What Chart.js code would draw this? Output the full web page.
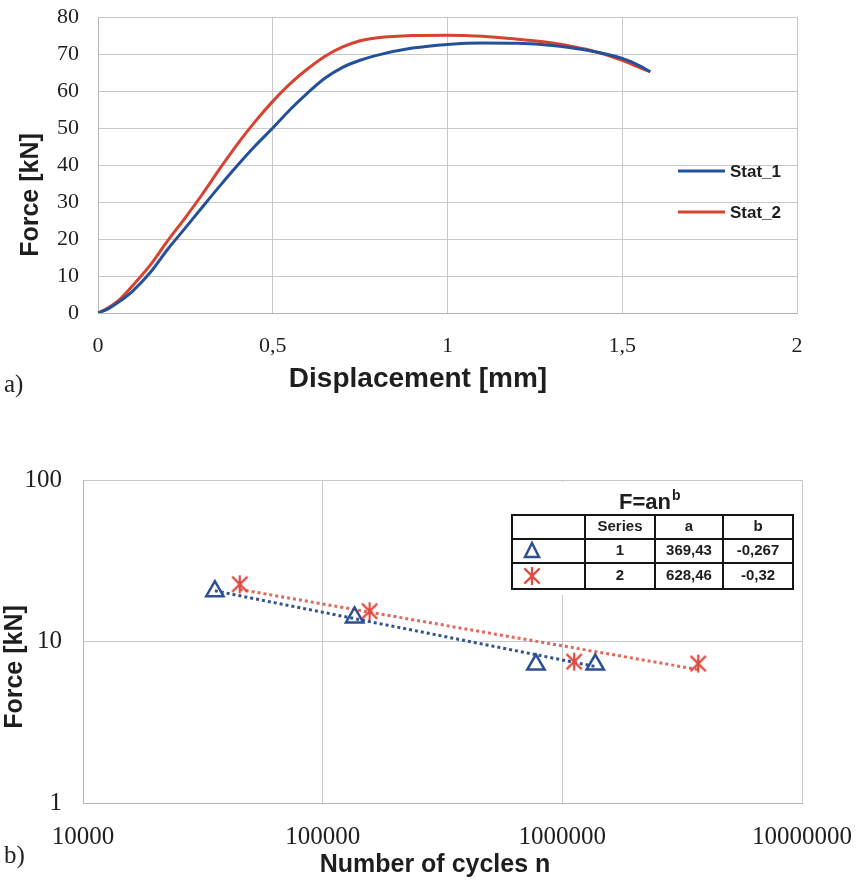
<!DOCTYPE html>
<html><head><meta charset="utf-8">
<script src="https://cdn.jsdelivr.net/npm/chart.js@4.4.1/dist/chart.umd.min.js"></script>
<style>
html,body{margin:0;padding:0;background:#fff;}
#wrap{position:relative;width:858px;height:882px;overflow:hidden;background:#fff;}
canvas{position:absolute;left:0;}
#c1{top:0;}
#c2{top:440px;}
.lab{position:absolute;font-family:"Liberation Serif","Times New Roman",serif;font-size:25px;color:#222;line-height:28px;}
</style></head><body>
<div id="wrap">
<canvas id="c1" width="858" height="400"></canvas>
<canvas id="c2" width="858" height="442"></canvas>
<div class="lab" style="left:4px;top:370px;">a)</div>
<div class="lab" style="left:4px;top:841px;">b)</div>
</div>
<script>
// ---------- Data: chart a) ----------
const dispX  = [0, 0.03, 0.06, 0.1, 0.15, 0.2, 0.25, 0.3, 0.35, 0.4, 0.45, 0.5, 0.55, 0.6, 0.65, 0.7, 0.75, 0.8, 0.9, 1.0, 1.1, 1.2, 1.3, 1.4, 1.5, 1.55, 1.58];
const stat1F = [0, 1.2, 3, 6, 11, 17.3, 23, 28.8, 34.5, 40, 45.2, 50, 55, 59.5, 63.5, 66.4, 68.3, 69.7, 71.6, 72.6, 73, 72.9, 72.3, 71, 68.8, 66.8, 65.2];
const stat2F = [0, 1.5, 3.5, 7.5, 13, 19.6, 25.8, 32.3, 39.2, 45.8, 51.8, 57.2, 62, 66, 69.4, 71.9, 73.6, 74.4, 75, 75.1, 74.8, 74, 73, 71.2, 68.3, 66.3, 65.2];
const seriesA = ['Stat_1', 'Stat_2'];
const xTicksA = [0, 0.5, 1, 1.5, 2];
const yTicksA = [0, 10, 20, 30, 40, 50, 60, 70, 80];

// ---------- Data: chart b) ----------
const s1Cycles = [35500, 135900, 776000, 1372000];
const s1Force  = [20.5, 14.1, 7.2, 7.2];
const s2Cycles = [45100, 157000, 1120000, 3690000];
const s2Force  = [22.6, 15.4, 7.5, 7.3];
const trend1Cycles = [35500, 1372000];
const trend1Force  = [20.6, 7.0];
const trend2Cycles = [45100, 3690000];
const trend2Force  = [21.0, 6.7];
const xTicksB = [10000, 100000, 1000000, 10000000];
const yTicksB = [1, 10, 100];
const tableHead = ['Series', 'a', 'b'];
const tableRows = [['1', '369,43', '-0,267'], ['2', '628,46', '-0,32']];

const SANS = '"Liberation Sans", Arial, sans-serif';
const SERIF = '"Liberation Serif", "Times New Roman", serif';
const BLUE_A = '#23509b', RED_A = '#d9422f';
const BLUE_B = '#2c4f95', RED_B = '#e04a40', BLUE_T = '#34538f', RED_T = '#e2675c';
const GRID = '#c8c8c8', TXT = '#1e1e1e';

function drawText(ctx, txt, x, y, font, rot) {
  ctx.save();
  ctx.translate(x, y);
  if (rot) ctx.rotate(rot);
  ctx.font = font; ctx.fillStyle = TXT; ctx.textAlign = 'center'; ctx.textBaseline = 'middle';
  ctx.fillText(txt, 0, 0);
  ctx.restore();
}

function asterisk(ctx, cx, cy, r, color, lw) {
  ctx.save();
  ctx.strokeStyle = color; ctx.lineWidth = lw; ctx.lineCap = 'butt';
  ctx.beginPath();
  ctx.moveTo(cx, cy - r); ctx.lineTo(cx, cy + r);
  const d = r * 0.85;
  ctx.moveTo(cx - d, cy - d); ctx.lineTo(cx + d, cy + d);
  ctx.moveTo(cx + d, cy - d); ctx.lineTo(cx - d, cy + d);
  ctx.stroke();
  ctx.restore();
}
function makeAsterisk() {
  const c = document.createElement('canvas');
  c.width = 20; c.height = 20;
  asterisk(c.getContext('2d'), 10, 10, 9, RED_B, 2.2);
  return c;
}
const starImg = makeAsterisk();

function noPadV(s) { s.paddingTop = 0; s.paddingBottom = 0; }
function noPadH(s) { s.paddingLeft = 0; s.paddingRight = 0; }

// ---------- Chart a) ----------
const extrasA = {
  id: 'extrasA',
  afterDraw(chart) {
    const ctx = chart.ctx;
    drawText(ctx, 'Displacement [mm]', 418, 379, 'bold 28px ' + SANS);
    drawText(ctx, 'Force [kN]', 31, 195, 'bold 25px ' + SANS, -Math.PI / 2);
    const ys = [171, 212];
    chart.data.datasets.forEach((ds, i) => {
      ctx.save();
      ctx.strokeStyle = ds.borderColor; ctx.lineWidth = 3;
      ctx.beginPath(); ctx.moveTo(678, ys[i]); ctx.lineTo(725, ys[i]); ctx.stroke();
      ctx.font = 'bold 17px ' + SANS; ctx.fillStyle = TXT; ctx.textAlign = 'left'; ctx.textBaseline = 'middle';
      ctx.fillText(ds.label, 730, ys[i] + 1);
      ctx.restore();
    });
  }
};

new Chart(document.getElementById('c1'), {
  type: 'line',
  data: {
    datasets: [
      { label: seriesA[0], data: dispX.map((x, i) => ({ x, y: stat1F[i] })), borderColor: BLUE_A, borderWidth: 3, pointRadius: 0, cubicInterpolationMode: 'monotone', fill: false },
      { label: seriesA[1], data: dispX.map((x, i) => ({ x, y: stat2F[i] })), borderColor: RED_A, borderWidth: 3, pointRadius: 0, cubicInterpolationMode: 'monotone', fill: false }
    ]
  },
  options: {
    responsive: false, animation: false, devicePixelRatio: 1,
    layout: { padding: { left: 0, top: 17, right: 61, bottom: 0 } },
    plugins: { legend: { display: false }, tooltip: { enabled: false } },
    scales: {
      x: {
        type: 'linear', min: 0, max: 2,
        afterBuildTicks: s => { s.ticks = xTicksA.map(v => ({ value: v })); },
        ticks: { callback: v => String(v).replace('.', ','), font: { family: SERIF, size: 22 }, color: TXT, padding: 20, maxRotation: 0, autoSkip: false },
        grid: { color: GRID, drawTicks: false, lineWidth: 1 },
        border: { color: '#b4b4b4', width: 1 },
        afterFit: s => { s.height = 87; noPadH(s); }
      },
      y: {
        type: 'linear', min: 0, max: 80,
        afterBuildTicks: s => { s.ticks = yTicksA.map(v => ({ value: v })); },
        ticks: { font: { family: SERIF, size: 22 }, color: TXT, padding: 19, autoSkip: false },
        grid: { color: GRID, drawTicks: false, lineWidth: 1 },
        border: { color: '#b4b4b4', width: 1 },
        afterFit: s => { s.width = 98; noPadV(s); }
      }
    }
  },
  plugins: [extrasA]
});

// ---------- Chart b) ----------
const OY = 440;
const extrasB = {
  id: 'extrasB',
  afterDraw(chart) {
    const ctx = chart.ctx;
    drawText(ctx, 'Number of cycles n', 435, 865 - OY, 'bold 25px ' + SANS);
    drawText(ctx, 'Force [kN]', 15, 667 - OY, 'bold 25px ' + SANS, -Math.PI / 2);
    ctx.save();
    // legend box background
    ctx.fillStyle = '#fff';
    ctx.fillRect(545, 482 - OY, 255, 595 - 482);
    // title F=an^b
    ctx.fillStyle = TXT; ctx.textAlign = 'left'; ctx.textBaseline = 'alphabetic';
    ctx.font = 'bold 22px ' + SANS;
    ctx.fillText('F=an', 619, 509 - OY);
    const w = ctx.measureText('F=an').width;
    ctx.font = 'bold 14px ' + SANS;
    ctx.fillText('b', 619 + w + 1, 500 - OY);
    // table grid
    const cols = [512, 585, 655, 723, 793];
    const rows = [515, 539, 563, 589];
    ctx.strokeStyle = '#161616'; ctx.lineWidth = 2;
    ctx.beginPath();
    cols.forEach(x => { ctx.moveTo(x, rows[0] - OY); ctx.lineTo(x, rows[3] - OY); });
    rows.forEach(y => { ctx.moveTo(cols[0] - 1, y - OY); ctx.lineTo(cols[4] + 1, y - OY); });
    ctx.stroke();
    // texts
    ctx.font = 'bold 15px ' + SANS; ctx.textAlign = 'center'; ctx.textBaseline = 'middle'; ctx.fillStyle = TXT;
    const cx = [620, 689, 758];
    tableHead.forEach((t, i) => ctx.fillText(t, cx[i], 527 - OY));
    const ry = [551, 576];
    tableRows.forEach((r, j) => r.forEach((t, i) => ctx.fillText(t, cx[i], ry[j] - OY)));
    // icons
    ctx.strokeStyle = BLUE_B; ctx.lineWidth = 2.5;
    ctx.beginPath();
    ctx.moveTo(532, 543 - OY); ctx.lineTo(539, 557 - OY); ctx.lineTo(525, 557 - OY); ctx.closePath();
    ctx.stroke();
    asterisk(ctx, 532, 576 - OY, 9, RED_B, 2.2);
    ctx.restore();
  }
};

const pts = (xs, ys) => xs.map((x, i) => ({ x, y: ys[i] }));
new Chart(document.getElementById('c2'), {
  type: 'scatter',
  data: {
    datasets: [
      { label: 'Series 1', data: pts(s1Cycles, s1Force), showLine: false, pointStyle: 'triangle', pointRadius: 10, borderWidth: 2.5, borderColor: BLUE_B, backgroundColor: 'rgba(0,0,0,0)', order: 1 },
      { label: 'Series 2', data: pts(s2Cycles, s2Force), showLine: false, pointStyle: starImg, pointRadius: 10, borderColor: RED_B, backgroundColor: RED_B, order: 1 },
      { label: 'Trend 1', data: pts(trend1Cycles, trend1Force), showLine: true, pointRadius: 0, borderColor: BLUE_T, borderWidth: 3, borderDash: [3, 3], order: 2 },
      { label: 'Trend 2', data: pts(trend2Cycles, trend2Force), showLine: true, pointRadius: 0, borderColor: RED_T, borderWidth: 3, borderDash: [3, 3], order: 2 }
    ]
  },
  options: {
    responsive: false, animation: false, devicePixelRatio: 1,
    layout: { padding: { left: 0, top: 40, right: 56, bottom: 0 } },
    plugins: { legend: { display: false }, tooltip: { enabled: false } },
    scales: {
      x: {
        type: 'logarithmic', min: 10000, max: 10000000,
        afterBuildTicks: s => { s.ticks = xTicksB.map(v => ({ value: v })); },
        ticks: { callback: v => String(v), font: { family: SERIF, size: 25 }, color: TXT, padding: 19, maxRotation: 0, autoSkip: false },
        grid: { color: GRID, drawTicks: false, lineWidth: 1 },
        border: { color: '#b4b4b4', width: 1 },
        afterFit: s => { s.height = 79; noPadH(s); }
      },
      y: {
        type: 'logarithmic', min: 1, max: 100,
        afterBuildTicks: s => { s.ticks = yTicksB.map(v => ({ value: v })); },
        ticks: { callback: v => String(v), font: { family: SERIF, size: 25 }, color: TXT, padding: 21, autoSkip: false },
        grid: { color: GRID, drawTicks: false, lineWidth: 1 },
        border: { color: '#b4b4b4', width: 1 },
        afterFit: s => { s.width = 83; noPadV(s); }
      }
    }
  },
  plugins: [extrasB]
});
</script>
</body></html>
